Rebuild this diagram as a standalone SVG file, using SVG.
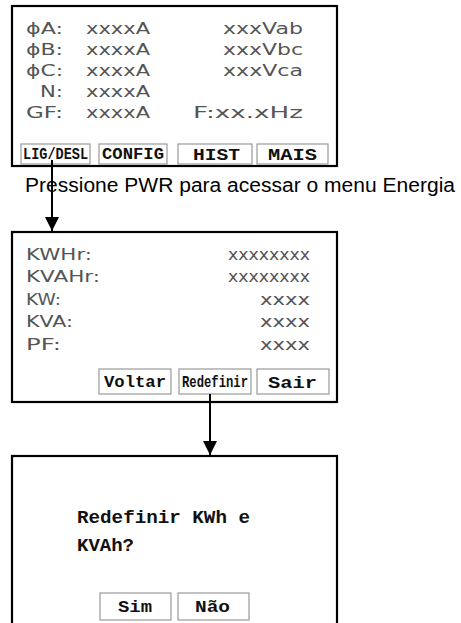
<svg xmlns="http://www.w3.org/2000/svg" width="461" height="623" viewBox="0 0 461 623">
<defs>
<style>
.frame{fill:#fff;stroke:#000;stroke-width:2.2}
.btn{fill:#fff;stroke:#999;stroke-width:1.2}
.lcd{font-family:"DejaVu Sans",sans-serif;font-size:15px;fill:#555}
.bt{font-family:"Liberation Mono",monospace;font-weight:bold;font-size:16px;fill:#111}
.cap{font-family:"Liberation Sans",Arial,sans-serif;font-size:20px;fill:#000}
.msg{font-family:"Liberation Mono",monospace;font-weight:bold;font-size:19px;fill:#111}
.conn{stroke:#000;stroke-width:2;fill:none}
</style>
<marker id="arr" viewBox="0 0 10 10" refX="10" refY="5" markerWidth="7" markerHeight="7" markerUnits="strokeWidth" orient="auto">
<path d="M0,0 L10,5 L0,10 Z" fill="#000"/>
</marker>
</defs>
<rect width="461" height="623" fill="#fff"/>

<g id="main-screen">
<rect class="frame" x="12" y="6" width="325" height="160"/>
<g lengthAdjust="spacingAndGlyphs">
<text class="lcd" x="26" y="34" textLength="37" lengthAdjust="spacingAndGlyphs">ϕA:</text>
<text class="lcd" x="86" y="34" textLength="64" lengthAdjust="spacingAndGlyphs">xxxxA</text>
<text class="lcd" x="223" y="34" textLength="80" lengthAdjust="spacingAndGlyphs">xxxVab</text>
<text class="lcd" x="26" y="55" textLength="37" lengthAdjust="spacingAndGlyphs">ϕB:</text>
<text class="lcd" x="86" y="55" textLength="64" lengthAdjust="spacingAndGlyphs">xxxxA</text>
<text class="lcd" x="223" y="55" textLength="80" lengthAdjust="spacingAndGlyphs">xxxVbc</text>
<text class="lcd" x="26" y="76" textLength="37" lengthAdjust="spacingAndGlyphs">ϕC:</text>
<text class="lcd" x="86" y="76" textLength="64" lengthAdjust="spacingAndGlyphs">xxxxA</text>
<text class="lcd" x="223" y="76" textLength="80" lengthAdjust="spacingAndGlyphs">xxxVca</text>
<text class="lcd" x="40" y="97" textLength="23" lengthAdjust="spacingAndGlyphs">N:</text>
<text class="lcd" x="86" y="97" textLength="64" lengthAdjust="spacingAndGlyphs">xxxxA</text>
<text class="lcd" x="26" y="118" textLength="37" lengthAdjust="spacingAndGlyphs">GF:</text>
<text class="lcd" x="86" y="118" textLength="64" lengthAdjust="spacingAndGlyphs">xxxxA</text>
<text class="lcd" x="193" y="118" textLength="110" lengthAdjust="spacingAndGlyphs">F:xx.xHz</text>
</g>
<rect class="btn" x="21" y="144" width="69" height="20"/>
<text class="bt" x="23" y="159" textLength="65" lengthAdjust="spacingAndGlyphs" font-size="15">LIG/DESL</text>
<rect class="btn" x="99" y="144" width="68" height="20"/>
<text class="bt" x="102" y="159" textLength="62" lengthAdjust="spacingAndGlyphs" font-size="15">CONFIG</text>
<rect class="btn" x="178" y="144" width="74" height="20"/>
<text class="bt" x="193" y="160" textLength="47" lengthAdjust="spacingAndGlyphs">HIST</text>
<rect class="btn" x="257" y="144" width="71" height="20"/>
<text class="bt" x="268" y="160" textLength="49" lengthAdjust="spacingAndGlyphs">MAIS</text>
</g>

<g id="caption">
<text class="cap" x="25" y="192" textLength="430" lengthAdjust="spacingAndGlyphs">Pressione PWR para acessar o menu Energia</text>
</g>

<g id="energy-screen">
<rect class="frame" x="12" y="232" width="325" height="170"/>
<text class="lcd" x="26" y="260" textLength="66" lengthAdjust="spacingAndGlyphs">KWHr:</text>
<text class="lcd" x="228" y="260" textLength="82" lengthAdjust="spacingAndGlyphs">xxxxxxxx</text>
<text class="lcd" x="26" y="282" textLength="74" lengthAdjust="spacingAndGlyphs">KVAHr:</text>
<text class="lcd" x="228" y="282" textLength="82" lengthAdjust="spacingAndGlyphs">xxxxxxxx</text>
<text class="lcd" x="26" y="305" textLength="35" lengthAdjust="spacingAndGlyphs">KW:</text>
<text class="lcd" x="260" y="305" textLength="50" lengthAdjust="spacingAndGlyphs">xxxx</text>
<text class="lcd" x="26" y="327" textLength="47" lengthAdjust="spacingAndGlyphs">KVA:</text>
<text class="lcd" x="260" y="327" textLength="50" lengthAdjust="spacingAndGlyphs">xxxx</text>
<text class="lcd" x="26" y="350" textLength="35" lengthAdjust="spacingAndGlyphs">PF:</text>
<text class="lcd" x="260" y="350" textLength="50" lengthAdjust="spacingAndGlyphs">xxxx</text>
<rect class="btn" x="99" y="369" width="72" height="25"/>
<text class="bt" x="104" y="387" textLength="62" lengthAdjust="spacingAndGlyphs">Voltar</text>
<rect class="btn" x="179" y="369" width="72" height="25"/>
<text class="bt" x="182" y="387" textLength="66" lengthAdjust="spacingAndGlyphs" font-size="15">Redefinir</text>
<rect class="btn" x="257" y="369" width="72" height="25"/>
<text class="bt" x="268" y="388" textLength="49" lengthAdjust="spacingAndGlyphs" font-size="18">Sair</text>
</g>

<g id="confirm-screen">
<rect class="frame" x="12" y="456" width="325" height="180"/>
<text class="msg" x="77" y="523" textLength="173" lengthAdjust="spacingAndGlyphs">Redefinir KWh e</text>
<text class="msg" x="77" y="551">KVAh?</text>
<rect class="btn" x="100" y="593" width="71" height="27"/>
<text class="bt" x="118" y="612" textLength="34" lengthAdjust="spacingAndGlyphs" font-size="17">Sim</text>
<rect class="btn" x="178" y="593" width="71" height="27"/>
<text class="bt" x="195" y="612" textLength="35" lengthAdjust="spacingAndGlyphs" font-size="17">Não</text>
</g>

<g id="connectors">
<line class="conn" x1="52" y1="160" x2="52" y2="231" marker-end="url(#arr)"/>
<line class="conn" x1="210" y1="394" x2="210" y2="455" marker-end="url(#arr)"/>
</g>
</svg>
